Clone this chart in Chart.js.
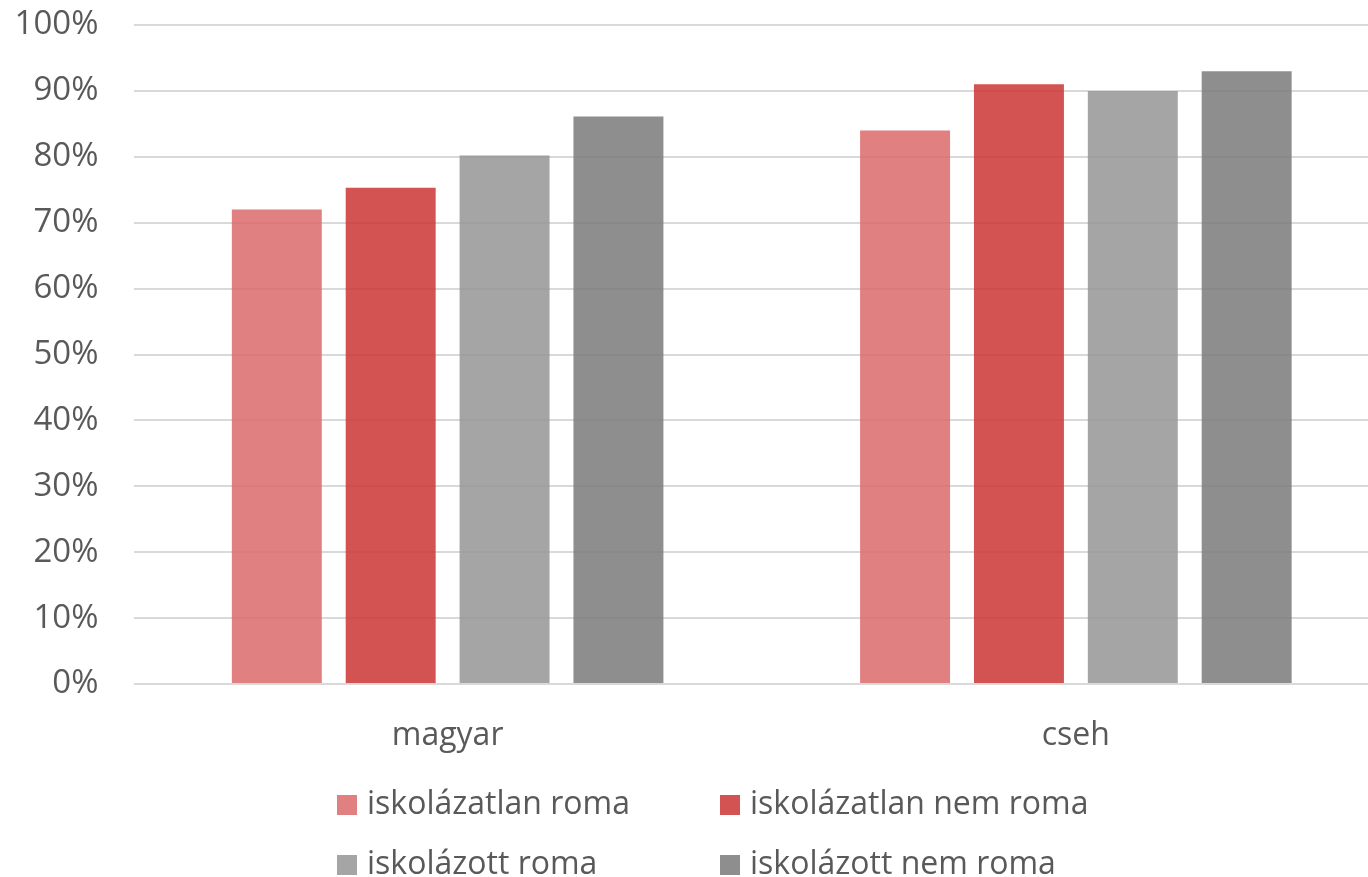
<!DOCTYPE html>
<html>
<head>
<meta charset="utf-8">
<script src="https://cdn.jsdelivr.net/npm/chart.js@4.4.1/dist/chart.umd.min.js"></script>
<style>
  html, body { margin: 0; padding: 0; background: #fff; overflow: hidden; width: 1368px; height: 877px; }
  #wrap { position: relative; width: 1368px; height: 877px; overflow: hidden; }
  canvas { position: absolute; left: 0; top: -29px; }
  .leg { position: absolute; font-family: "Open Sans", sans-serif; font-size: 32px; color: #595959; white-space: nowrap; line-height: 40px; }
  .leg span.sw { display: inline-block; width: 20px; height: 20px; margin-right: 10px; vertical-align: -1px; }
</style>
</head>
<body>
<div id="wrap">
  <canvas id="c" width="1390" height="906"></canvas>
  <div id="legend"></div>
</div>
<script>
const categories = ['magyar', 'cseh'];
const seriesNames = ['iskolázatlan roma', 'iskolázatlan nem roma', 'iskolázott roma', 'iskolázott nem roma'];
const iskolazatlanRoma = [72, 84];
const iskolazatlanNemRoma = [75.3, 91];
const iskolazottRoma = [80.2, 90];
const iskolazottNemRoma = [86.1, 93];
const yTicks = [0, 10, 20, 30, 40, 50, 60, 70, 80, 90, 100];

const colors = ['rgba(219,106,106,0.85)', 'rgba(203,52,52,0.85)', 'rgba(149,149,149,0.85)', 'rgba(122,122,122,0.85)'];
const legendColors = ['#E08080', '#D35252', '#A5A5A5', '#8E8E8E'];
const seriesData = [iskolazatlanRoma, iskolazatlanNemRoma, iskolazottRoma, iskolazottNemRoma];

const FONT = '"Open Sans", sans-serif';
const TXT = '#595959';
const CANVAS_OFFSET = 29;
const PLOT_TOP = 25 + CANVAS_OFFSET;
const PLOT_BOTTOM = 684 + CANVAS_OFFSET;

new Chart(document.getElementById('c'), {
  type: 'bar',
  data: {
    labels: categories,
    datasets: seriesNames.map((n, i) => ({
      label: n,
      data: seriesData[i],
      backgroundColor: colors[i],
      borderWidth: 0,
      categoryPercentage: 0.725,
      barPercentage: 0.79
    }))
  },
  options: {
    responsive: false,
    animation: false,
    layout: { padding: { top: PLOT_TOP, right: 0, left: 0, bottom: 0 } },
    plugins: { legend: { display: false }, tooltip: { enabled: false } },
    scales: {
      x: {
        grid: { display: false, drawTicks: false },
        border: { display: false },
        ticks: { color: TXT, font: { family: FONT, size: 32 }, padding: 33 },
        afterFit(s) { s.height = 906 - PLOT_BOTTOM; }
      },
      y: {
        min: 0, max: 100,
        afterBuildTicks(s) { s.ticks = yTicks.map(v => ({ value: v })); },
        grid: { color: '#D9D9D9', lineWidth: 2, drawTicks: false },
        border: { display: false },
        ticks: { color: TXT, font: { family: FONT, size: 33 }, padding: 35, callback: v => v + '%' },
        afterFit(s) { s.width = 133.5; s.paddingTop = 0; }
      }
    }
  }
});

const legendPos = [[337, 782], [720, 782], [337, 842], [720, 842]];
const lg = document.getElementById('legend');
seriesNames.forEach((n, i) => {
  const d = document.createElement('div');
  d.className = 'leg';
  d.style.left = legendPos[i][0] + 'px';
  d.style.top = legendPos[i][1] + 'px';
  d.innerHTML = '<span class="sw" style="background:' + legendColors[i] + '"></span>' + n;
  lg.appendChild(d);
});
</script>
</body>
</html>
